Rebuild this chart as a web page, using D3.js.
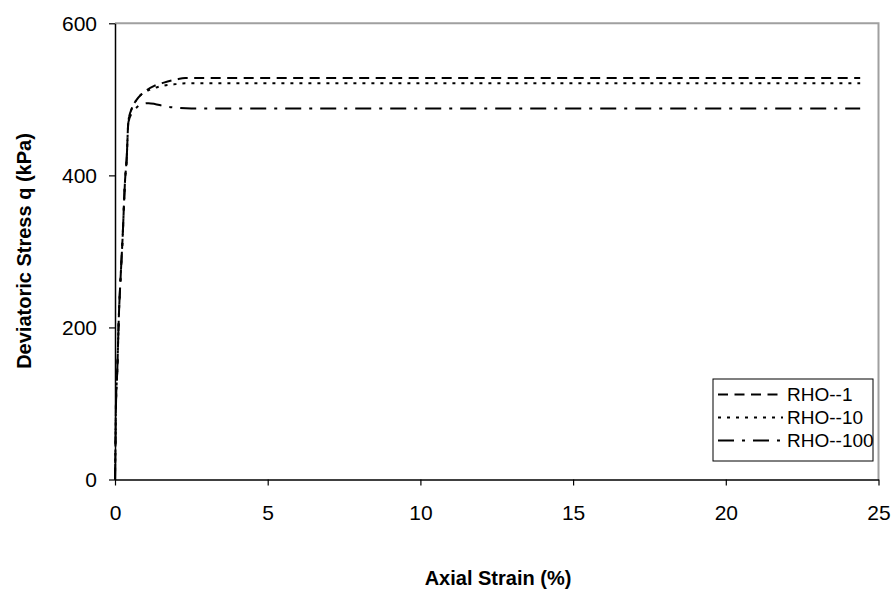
<!DOCTYPE html>
<html>
<head>
<meta charset="utf-8">
<script src="https://cdn.jsdelivr.net/npm/d3@7"></script>
<style>
  html, body { margin: 0; padding: 0; background: #fff; }
  svg { display: block; font-family: "Liberation Sans", Arial, sans-serif; }
</style>
</head>
<body>
<svg id="chart" width="891" height="592"></svg>
<script>
// ---- data ----
const xTicks = [0, 5, 10, 15, 20, 25];
const yTicks = [0, 200, 400, 600];
const seriesNames = ["RHO--1", "RHO--10", "RHO--100"];

const strain1  = [0, 0.02, 0.03, 0.075, 0.13, 0.19, 0.25, 0.33, 0.38, 0.44, 0.55, 0.7, 0.85, 1.0, 1.3, 1.6, 2.0, 2.3, 5, 10, 15, 20, 24.4];
const stress1  = [0, 60, 95, 144, 219, 271, 319, 394, 420, 472, 488, 499, 506, 511, 518, 522, 526, 528, 528, 528, 528, 528, 528];

const strain10 = [0, 0.02, 0.03, 0.075, 0.13, 0.19, 0.25, 0.33, 0.38, 0.44, 0.55, 0.7, 0.85, 1.0, 1.3, 1.6, 2.0, 2.3, 5, 10, 15, 20, 24.4];
const stress10 = [0, 60, 95, 144, 219, 271, 319, 394, 420, 472, 488, 499, 506, 510, 515, 518, 520, 521, 521, 521, 521, 521, 521];

const strain100 = [0, 0.02, 0.03, 0.075, 0.13, 0.19, 0.25, 0.33, 0.38, 0.44, 0.55, 0.7, 0.9, 1.1, 1.3, 1.6, 2.0, 2.5, 5, 10, 15, 20, 24.4];
const stress100 = [0, 60, 95, 144, 219, 271, 319, 394, 420, 470, 482, 489, 494, 495, 494, 491, 489, 488, 488, 488, 488, 488, 488];

const dashStyles = ["10,6.5", "3,6", "16,8,3,8"];

// ---- layout ----
const svg = d3.select("#chart");
const mLeft = 115, mRight = 878.5, mTop = 23.3, mBottom = 479.5;

const x = d3.scaleLinear().domain([0, 25]).range([mLeft, mRight]);
const y = d3.scaleLinear().domain([0, 600]).range([mBottom, mTop]);

// plot border (top/right gray)
svg.append("path")
  .attr("d", `M${mLeft},${mTop}H${mRight}V${mBottom}`)
  .attr("fill", "none").attr("stroke", "#a0a0a0").attr("stroke-width", 2);

// axes
const xAxis = svg.append("g").attr("transform", `translate(0,${mBottom})`)
  .call(d3.axisBottom(x).tickValues(xTicks).tickSize(6).tickSizeOuter(0).tickPadding(20));
const yAxis = svg.append("g").attr("transform", `translate(${mLeft},0)`)
  .call(d3.axisLeft(y).tickValues(yTicks).tickSize(6).tickSizeOuter(0).tickPadding(12));

[xAxis, yAxis].forEach(g => {
  g.select(".domain").attr("stroke", "#000").attr("stroke-width", 1.5);
  g.selectAll(".tick line").attr("stroke", "#000").attr("stroke-width", 1.2);
  g.selectAll(".tick text").attr("font-size", 21).attr("fill", "#000")
    .attr("font-family", '"Liberation Sans", Arial, sans-serif');
});

// series
const series = [
  { name: seriesNames[0], xs: strain1, ys: stress1, dash: dashStyles[0] },
  { name: seriesNames[1], xs: strain10, ys: stress10, dash: dashStyles[1] },
  { name: seriesNames[2], xs: strain100, ys: stress100, dash: dashStyles[2] }
];

const line = d3.line().x(d => x(d[0])).y(d => y(d[1])).curve(d3.curveMonotoneX);

series.forEach(s => {
  const pts = s.xs.map((v, i) => [v, s.ys[i]]);
  svg.append("path")
    .datum(pts)
    .attr("d", line)
    .attr("fill", "none")
    .attr("stroke", "#000")
    .attr("stroke-width", 2)
    .attr("stroke-dasharray", s.dash);
});

// legend
const lg = svg.append("g");
lg.append("rect")
  .attr("x", 713).attr("y", 379).attr("width", 160).attr("height", 82)
  .attr("fill", "#fff").attr("stroke", "#000").attr("stroke-width", 1);
series.forEach((s, i) => {
  const cy = 394.5 + i * 23;
  lg.append("line")
    .attr("x1", 718).attr("x2", 783).attr("y1", cy).attr("y2", cy)
    .attr("stroke", "#000").attr("stroke-width", 2)
    .attr("stroke-dasharray", s.dash);
  lg.append("text")
    .attr("x", 787).attr("y", cy).attr("dy", "0.35em")
    .attr("font-size", 19).attr("fill", "#000")
    .text(s.name);
});

// axis titles
svg.append("text")
  .attr("x", 498).attr("y", 585)
  .attr("text-anchor", "middle").attr("font-weight", "bold").attr("font-size", 20)
  .text("Axial Strain (%)");
svg.append("text")
  .attr("transform", "translate(31,251) rotate(-90)")
  .attr("text-anchor", "middle").attr("font-weight", "bold").attr("font-size", 20)
  .text("Deviatoric Stress q (kPa)");
</script>
</body>
</html>
